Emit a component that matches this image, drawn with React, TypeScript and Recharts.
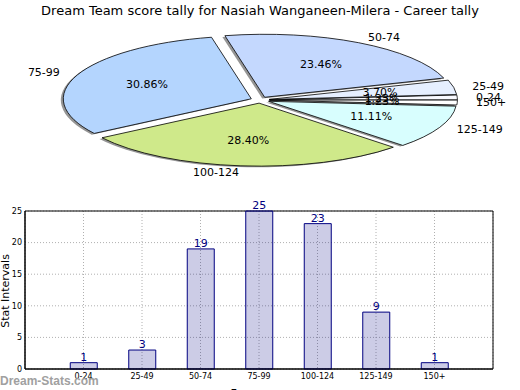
import React from "react";
import { PieChart, Pie, Cell, BarChart, Bar, XAxis, YAxis, CartesianGrid, LabelList, ReferenceArea } from "recharts";

const categories = ["0-24", "25-49", "50-74", "75-99", "100-124", "125-149", "150+"];
const counts = [1, 3, 19, 25, 23, 9, 1];
const sliceColors = ["#f8f9ff", "#e6efff", "#c4d8fe", "#b4d5fe", "#cfe98a", "#d8fefe", "#ffffff"];
const yTicks = [0, 5, 10, 15, 20, 25];

const FONT = "DejaVu Sans, sans-serif";
const RX = 188;
const RY = 63;
const EXPLODE = 0.05;
const RAD = Math.PI / 180;

const total = counts.reduce((a, b) => a + b, 0);
const pieData = categories.map((name, i) => ({ name, value: counts[i], fill: sliceColors[i] }));
const barData = categories.map((name, i) => ({ x: i + 1, name, value: counts[i] }));

function ellipsePath(cx: number, cy: number, a0: number, a1: number) {
  const x0 = cx + RX * Math.cos(a0 * RAD);
  const y0 = cy - RY * Math.sin(a0 * RAD);
  const x1 = cx + RX * Math.cos(a1 * RAD);
  const y1 = cy - RY * Math.sin(a1 * RAD);
  const large = a1 - a0 > 180 ? 1 : 0;
  return `M${cx},${cy} L${x0},${y0} A${RX},${RY} 0 ${large} 0 ${x1},${y1} Z`;
}

function offsetFor(mid: number) {
  return { dx: EXPLODE * RX * Math.cos(mid * RAD), dy: -EXPLODE * RY * Math.sin(mid * RAD) };
}

// elliptical, exploded slice (matplotlib pie on a non-equal aspect axis)
const SliceShape = (props: any) => {
  const { cx, cy, startAngle, endAngle, fill } = props;
  const mid = (startAngle + endAngle) / 2;
  const { dx, dy } = offsetFor(mid);
  return <path d={ellipsePath(cx + dx, cy + dy, startAngle, endAngle)} fill={fill} stroke="#000" strokeWidth={0.8} />;
};

const ShadowShape = (props: any) => {
  const { cx, cy, startAngle, endAngle } = props;
  const mid = (startAngle + endAngle) / 2;
  const { dx, dy } = offsetFor(mid);
  return <path d={ellipsePath(cx + dx - 2.5, cy + dy + 1.2, startAngle, endAngle)} fill="#959595" stroke="none" />;
};

const SliceLabel = (props: any) => {
  const { cx, cy, midAngle, index } = props;
  const c = Math.cos(midAngle * RAD);
  const s = Math.sin(midAngle * RAD);
  const lx = cx + RX * 1.15 * c;
  const ly = cy - RY * 1.15 * s;
  const px = cx + RX * 0.65 * c;
  const py = cy - RY * 0.65 * s;
  const pct = ((counts[index] / total) * 100).toFixed(2) + "%";
  return (
    <g fontFamily={FONT} fontSize={11} fill="#000">
      <text x={lx} y={ly} textAnchor={c >= 0 ? "start" : "end"} dominantBaseline="central">
        {categories[index]}
      </text>
      <text x={px} y={py} textAnchor="middle" dominantBaseline="central">
        {pct}
      </text>
    </g>
  );
};

export default function App() {
  return (
    <div style={{ position: "absolute", left: 0, top: 0, width: 520, height: 390, background: "#fff", overflow: "hidden" }}>
      <div style={{ position: "absolute", left: 0, top: 0 }}>
        <PieChart width={520} height={195} margin={{ top: 0, right: 0, bottom: 0, left: 0 }}>
          <Pie
            data={pieData}
            dataKey="value"
            cx={260}
            cy={100}
            outerRadius={RX}
            startAngle={0}
            endAngle={360}
            stroke="none"
            shape={ShadowShape}
            isAnimationActive={false}
          >
            {pieData.map((d, i) => (
              <Cell key={`s-${i}`} fill="#959595" />
            ))}
          </Pie>
          <Pie
            data={pieData}
            dataKey="value"
            cx={260}
            cy={100}
            outerRadius={RX}
            startAngle={0}
            endAngle={360}
            shape={SliceShape}
            label={SliceLabel}
            labelLine={false}
            isAnimationActive={false}
          >
            {pieData.map((d, i) => (
              <Cell key={`c-${i}`} fill={d.fill} />
            ))}
          </Pie>
        </PieChart>
      </div>
      <div style={{ position: "absolute", left: 0, top: 195 }}>
        <BarChart width={520} height={195} data={barData} margin={{ top: 16, right: 27, bottom: 0, left: 0 }}>
          <CartesianGrid stroke="#b0b0b0" strokeDasharray="1 2" />
          <XAxis
            dataKey="x"
            type="number"
            domain={[0, 8]}
            ticks={[1, 2, 3, 4, 5, 6, 7]}
            tickFormatter={(v: number) => categories[v - 1]}
            height={21}
            tick={{ fontSize: 8, fill: "#000", fontFamily: FONT }}
            tickLine={false}
            tickSize={2}
            tickMargin={2}
            axisLine={{ stroke: "#000" }}
            interval={0}
          />
          <YAxis
            type="number"
            domain={[0, 25]}
            ticks={yTicks}
            width={25}
            tick={{ fontSize: 8, fill: "#000", fontFamily: FONT }}
            tickLine={false}
            tickSize={1}
            tickMargin={2}
            axisLine={{ stroke: "#000" }}
          />
          <Bar dataKey="value" barSize={27} fill="#000080" fillOpacity={0.2} stroke="#000080" strokeWidth={1} isAnimationActive={false}>
            <LabelList dataKey="value" position="top" offset={2} fill="#000080" fontSize={11} fontFamily={FONT} />
          </Bar>
          <ReferenceArea x1={0} x2={8} y1={0} y2={25} fill="none" stroke="#000" strokeWidth={1} ifOverflow="visible" />
        </BarChart>
      </div>
      <svg width={520} height={390} style={{ position: "absolute", left: 0, top: 0, pointerEvents: "none" }}>
        <text x={260} y={10} textAnchor="middle" dominantBaseline="central" fontFamily={FONT} fontSize={13} fill="#000">
          Dream Team score tally for Nasiah Wanganeen-Milera - Career tally
        </text>
        <text
          x={5}
          y={291}
          transform="rotate(-90 5 291)"
          textAnchor="middle"
          dominantBaseline="central"
          fontFamily={FONT}
          fontSize={11}
          fill="#000"
        >
          Stat Intervals
        </text>
        <text x={259} y={393} textAnchor="middle" dominantBaseline="central" fontFamily={FONT} fontSize={11} fill="#000">
          Frequency
        </text>
        <text x={0} y={381} dominantBaseline="central" fontFamily="Liberation Sans, Arial, sans-serif" fontWeight="bold" fontSize={12} fill="#a0a0a0">
          Dream-Stats.com
        </text>
      </svg>
    </div>
  );
}
